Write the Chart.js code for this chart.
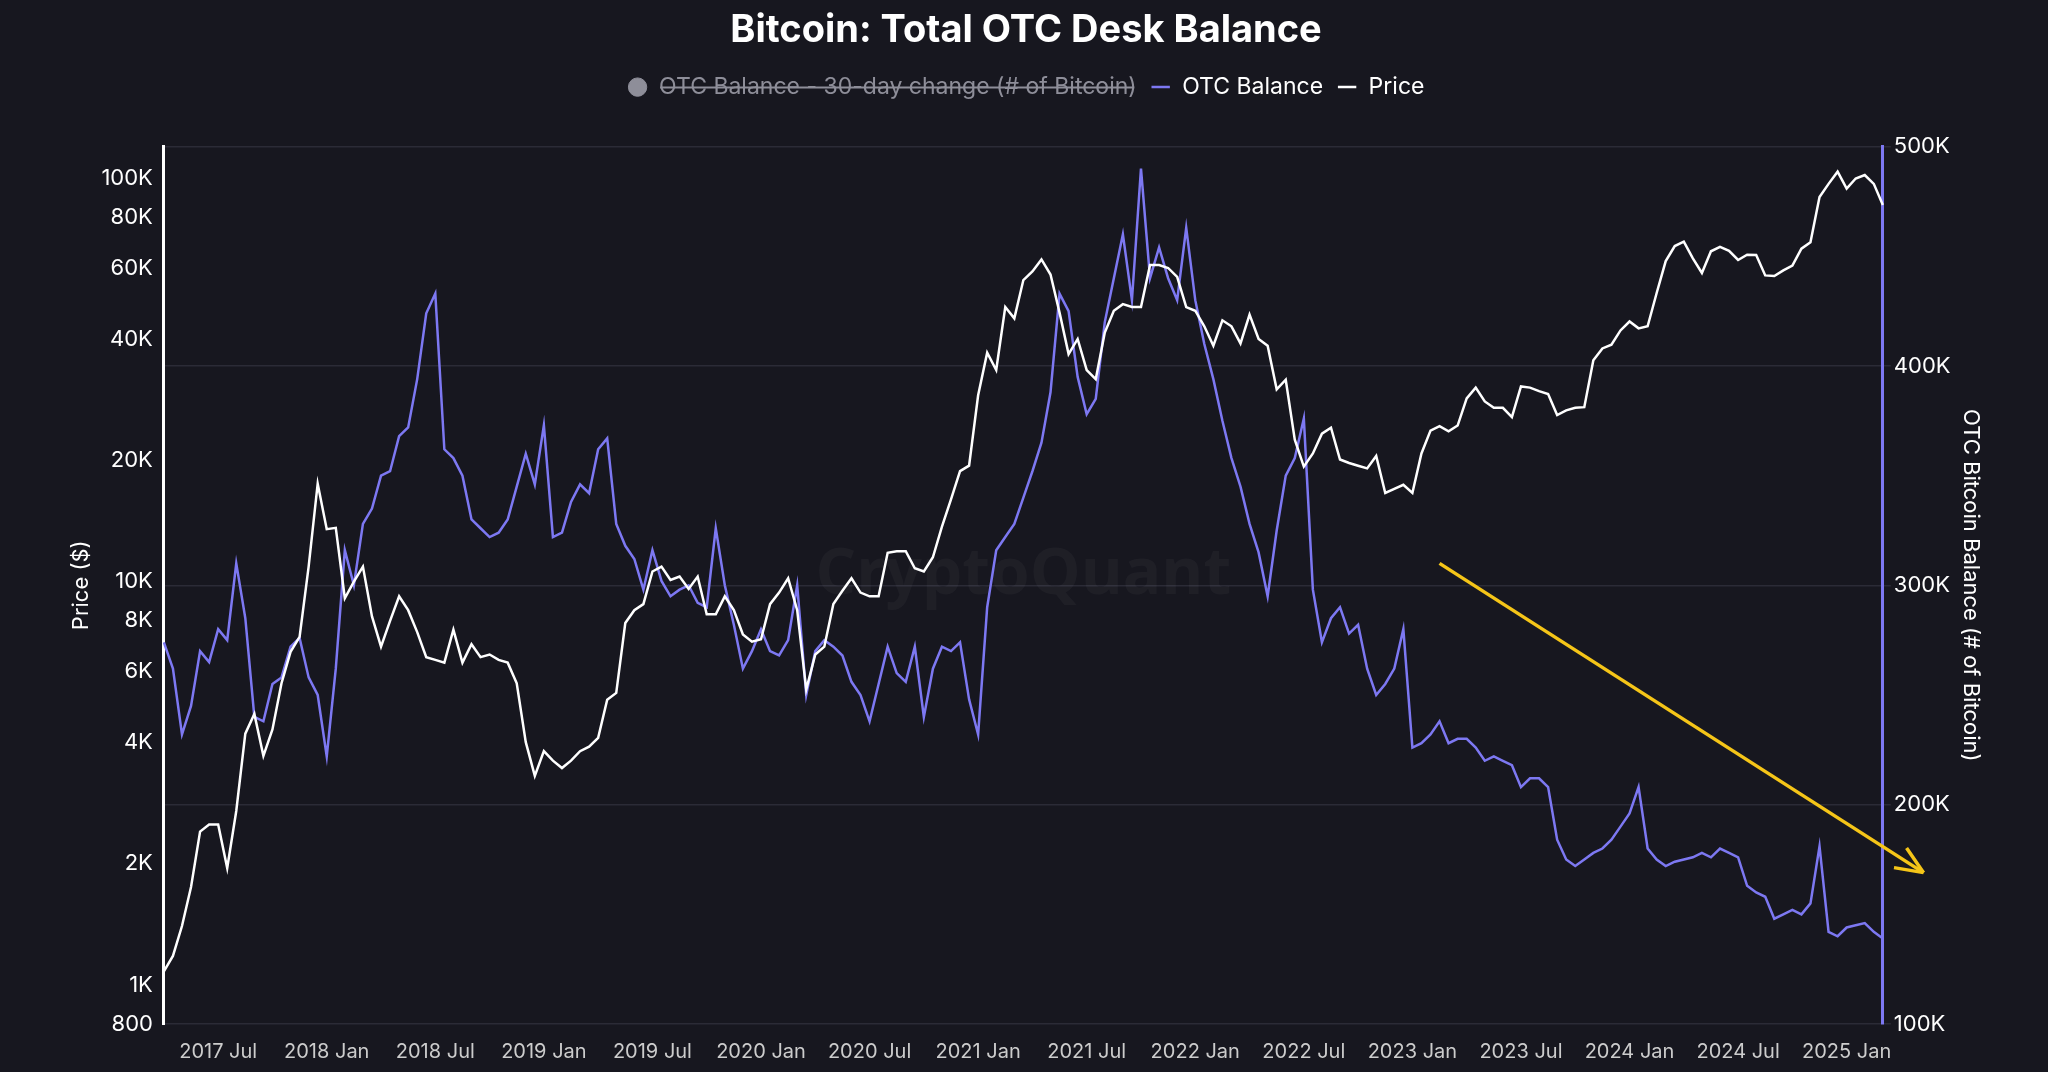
<!DOCTYPE html>
<html><head><meta charset="utf-8">
<script src="https://cdn.jsdelivr.net/npm/chart.js@4.4.1/dist/chart.umd.min.js"></script>
<style>html,body{margin:0;background:#17171f;}#w{width:2048px;height:1072px;}</style>
</head><body><div id="w"><canvas id="c"></canvas></div>
<script>
const startYear = 2017, startMonth = 4;
const priceValues = [
1080,1180,1400,1750,2400,2500,2500,1950,2700,4200,4700,3700,4300,5600,6700,7300,10900,17500,
13500,13600,9100,10000,10900,8200,6900,8000,9200,8500,7500,6500,6400,6300,7600,6300,7000,6500,6600,6400,6300,5600,4000,3300,
3800,3600,3450,3600,3800,3900,4100,5100,5300,7900,8500,8800,10600,10900,10100,10300,9600,10300,8300,8300,9200,8500,7400,7100,
7200,8800,9400,10200,8500,5400,6600,6900,8800,9500,10200,9400,9200,9200,11800,11900,11900,10800,10600,11500,13700,16000,18800,19400,
29000,37000,33500,48000,45000,56000,58800,63000,57800,46500,36700,40000,33500,31800,41500,47000,48800,48000,48000,61000,61000,60000,57000,48000,
47000,43000,38500,44500,43000,39000,46000,40000,38500,30000,31700,22500,19300,20800,23300,24100,20100,19700,19400,19100,20500,16600,17000,17400,
16600,20800,23700,24300,23600,24400,28500,30300,28000,27000,27000,25600,30500,30300,29700,29200,25900,26600,27000,27100,35400,37900,38700,42000,
44200,42500,43000,52000,62400,68000,69700,63400,58300,66000,67700,66200,62800,64700,64600,57500,57300,59200,60800,67000,69500,90000,97000,104000,
94400,100000,102000,97000,86000];
const otcValues = [
274,262,232,245,270,265,280,275,310,285,240,238,255,258,272,276,258,250,
222,262,316,300,328,335,350,352,368,372,394,424,433,362,358,350,330,326,322,324,330,345,360,346,
373,322,324,338,346,342,362,367,328,318,312,298,316,302,295,298,300,292,290,326,300,282,262,270,
280,270,268,275,300,250,270,275,272,268,256,250,238,255,272,260,256,272,240,262,272,270,274,248,
232,290,316,322,328,340,352,365,388,433,425,395,378,385,420,440,460,430,490,440,454,440,430,463,
430,410,394,375,358,345,328,315,295,325,350,358,376,298,274,285,290,278,282,262,250,255,262,280,
226,228,232,238,228,230,230,226,220,222,220,218,208,212,212,208,184,175,172,175,178,180,184,190,
196,208,180,175,172,174,175,176,178,176,180,178,176,163,160,158,148,150,152,150,155,181,142,140,
144,145,146,142,139].map(v=>v*1000);
const leftTicks = [800,1000,2000,4000,6000,8000,10000,20000,40000,60000,80000,100000];
const rightTicks = [100000,200000,300000,400000,500000];
const monthNames = ['Jan','Feb','Mar','Apr','May','Jun','Jul','Aug','Sep','Oct','Nov','Dec'];
const categories = priceValues.map((_,i)=>{const m=startMonth-1+Math.floor(i/2);const y=startYear+Math.floor(m/12);return {y, m:m%12, half:i%2};});
const labels = categories.map(c=>c.y+' '+monthNames[c.m]+(c.half?' 15':' 1'));
const fmtK = v => v>=1000 ? (v/1000)+'K' : String(v);

const arrowPlugin = {id:'arrow', afterDatasetsDraw(chart){
  const x=chart.scales.x, r=chart.scales.y1, ctx=chart.ctx;
  const x1=x.getPixelForValue(141), y1=r.getPixelForValue(310000);
  const x2=x.getPixelForValue(194.5), y2=r.getPixelForValue(169000);
  ctx.save(); ctx.strokeStyle='#f5c518'; ctx.lineWidth=3.5;
  ctx.beginPath(); ctx.moveTo(x1,y1); ctx.lineTo(x2,y2); ctx.stroke();
  const a=Math.atan2(y2-y1,x2-x1), L=30;
  ctx.beginPath(); ctx.moveTo(x2,y2);
  ctx.lineTo(x2-L*Math.cos(a-0.4),y2-L*Math.sin(a-0.4));
  ctx.moveTo(x2,y2); ctx.lineTo(x2-L*Math.cos(a+0.4),y2-L*Math.sin(a+0.4)); ctx.stroke();
  ctx.restore();
}, beforeDatasetsDraw(chart){
  const a=chart.chartArea, ctx=chart.ctx; ctx.save();
  ctx.font='bold 64px "Open Sans"'; ctx.fillStyle='rgba(255,255,255,0.035)';
  ctx.textAlign='center'; ctx.textBaseline='middle';
  ctx.fillText('CryptoQuant',(a.left+a.right)/2,(a.top+a.bottom)/2-10); ctx.restore();
}};

new Chart(document.getElementById('c'),{
  type:'line',
  data:{labels, datasets:[
    {label:'OTC Balance - 30-day change (# of Bitcoin)', data:[], hidden:true, backgroundColor:'#8e8e99', borderColor:'#8e8e99', pointStyle:'circle', yAxisID:'y1'},
    {label:'OTC Balance', data:otcValues, borderColor:'#7d78f2', backgroundColor:'#7d78f2', borderWidth:2.5, pointRadius:0, yAxisID:'y1', pointStyle:'line', order:2},
    {label:'Price', data:priceValues, borderColor:'#ffffff', backgroundColor:'#ffffff', borderWidth:2.5, pointRadius:0, yAxisID:'y', pointStyle:'line', order:1}
  ]},
  options:{responsive:true, maintainAspectRatio:false, animation:false,
    layout:{padding:{left:64,right:60,top:0,bottom:0}},
    plugins:{
      title:{display:true,text:'Bitcoin: Total OTC Desk Balance',color:'#ffffff',font:{family:'Inter',size:38,weight:'bold'},padding:{top:8,bottom:8}},
      legend:{labels:{usePointStyle:true,color:'#ffffff',font:{family:'Inter',size:23},boxWidth:20,boxHeight:13,padding:14,
        sort:(a,b)=>a.datasetIndex-b.datasetIndex,
        generateLabels(chart){const l=Chart.defaults.plugins.legend.labels.generateLabels(chart);
          l.forEach(it=>{if(it.hidden){it.fontColor='#8e8e99';it.pointStyle='circle';}});return l;}}},
      tooltip:{enabled:false}
    },
    scales:{
      x:{grid:{display:false},border:{color:'#ffffff',display:false},
        ticks:{autoSkip:false,maxRotation:0,color:'#cccccc',font:{family:'Inter',size:20},padding:8,
          callback:(v,i)=>{const c=categories[i];return (c.half===0&&(c.m===0||c.m===6))?c.y+' '+monthNames[c.m]:'';}}},
      y:{type:'logarithmic',position:'left',min:800,max:120000,
        afterBuildTicks:s=>{s.ticks=leftTicks.map(v=>({value:v}));},
        grid:{display:false},border:{color:'#ffffff',width:3},
        ticks:{color:'#ffffff',font:{family:'Inter',size:22},callback:v=>fmtK(v)},
        title:{display:true,text:'Price ($)',color:'#ffffff',font:{family:'Inter',size:22}}},
      y1:{type:'linear',position:'right',min:100000,max:500000,
        afterBuildTicks:s=>{s.ticks=rightTicks.map(v=>({value:v}));},
        grid:{color:'#2b2b36',lineWidth:1.5},border:{color:'#7d78f2',width:3,display:true},
        ticks:{color:'#ffffff',font:{family:'Inter',size:22},callback:v=>fmtK(v)},
        title:{display:true,text:'OTC Bitcoin Balance (# of Bitcoin)',color:'#ffffff',font:{family:'Inter',size:22}}}
    }
  },
  plugins:[arrowPlugin,{id:'legendGap',beforeInit(chart){const f=chart.legend&&chart.legend.fit;if(f){chart.legend.fit=function(){f.bind(this)();this.height+=38;};}}}]
});
</script></body></html>
